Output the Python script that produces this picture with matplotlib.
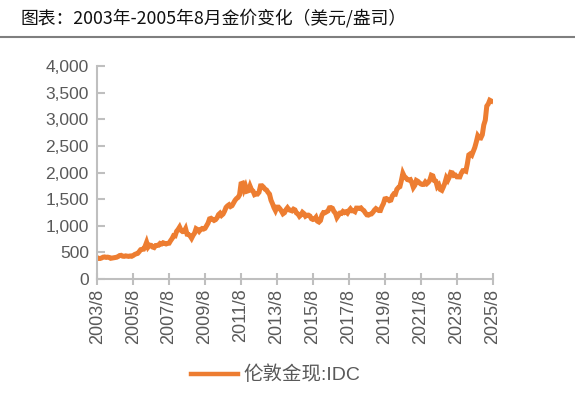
import numpy as np
import matplotlib
matplotlib.use("Agg")
import matplotlib.pyplot as plt
from matplotlib.lines import Line2D

plt.rcParams['font.family'] = ['Liberation Sans', 'Noto Sans CJK SC', 'DejaVu Sans']

# monthly gold price (USD/oz), 2003/8 .. 2025/7
gold = [
  # 2003 Aug-Dec
  400, 385, 385, 395, 410,
  # 2004
  414, 405, 410, 404, 388, 392, 398, 404, 408, 422, 440, 444,
  # 2005
  428, 425, 434, 430, 424, 432, 426, 440, 460, 472, 480, 512,
  # 2006
  550, 558, 560, 615, 690, 600, 636, 632, 600, 590, 628, 630,
  # 2007
  634, 668, 658, 680, 670, 658, 668, 672, 720, 760, 815, 810,
  # 2008
  895, 930, 975, 912, 890, 892, 945, 840, 835, 810, 765, 820,
  # 2009
  862, 945, 928, 895, 930, 948, 938, 952, 1000, 1050, 1130, 1140,
  # 2010
  1120, 1100, 1115, 1150, 1210, 1236, 1195, 1220, 1275, 1345, 1375, 1395,
  # 2011
  1362, 1378, 1428, 1478, 1512, 1532, 1580, 1790, 1800, 1680, 1745, 1650,
  # 2012
  1660, 1745, 1675, 1652, 1585, 1598, 1596, 1630, 1750, 1752, 1725, 1688,
  # 2013
  1672, 1628, 1595, 1480, 1415, 1340, 1285, 1350, 1350, 1318, 1275, 1225,
  # 2014
  1245, 1302, 1338, 1300, 1290, 1280, 1312, 1298, 1240, 1222, 1178, 1204,
  # 2015
  1252, 1228, 1180, 1198, 1200, 1182, 1132, 1118, 1126, 1160, 1086, 1070,
  # 2016
  1098, 1202, 1248, 1245, 1262, 1278, 1338, 1342, 1328, 1268, 1238, 1155,
  # 2017
  1195, 1236, 1232, 1268, 1248, 1262, 1238, 1285, 1318, 1282, 1284, 1266,
  # 2018
  1332, 1332, 1326, 1336, 1304, 1284, 1240, 1205, 1200, 1216, 1222, 1252,
  # 2019
  1294, 1322, 1302, 1286, 1286, 1360, 1415, 1505, 1512, 1496, 1472, 1482,
  # 2020
  1562, 1600, 1595, 1685, 1718, 1735, 1850, 1985, 1925, 1902, 1868, 1860,
  # 2021
  1868, 1810, 1720, 1762, 1852, 1836, 1808, 1786, 1776, 1778, 1822, 1792,
  # 2022
  1818, 1858, 1950, 1938, 1850, 1838, 1735, 1766, 1682, 1666, 1728, 1800,
  # 2023
  1900, 1856, 1915, 2002, 1995, 1945, 1952, 1920, 1918, 1918, 1988, 2035,
  # 2024
  2036, 2025, 2160, 2332, 2352, 2328, 2400, 2472, 2575, 2692, 2655, 2650,
  # 2025 Jan-Jul
  2710, 2895, 2985, 3250, 3290, 3360, 3345,
]
tick_labels = ["2003/8", "2005/8", "2007/8", "2009/8", "2011/8", "2013/8",
               "2015/8", "2017/8", "2019/8", "2021/8", "2023/8", "2025/8"]
y_ticks = [0, 500, 1000, 1500, 2000, 2500, 3000, 3500, 4000]
series_name = "伦敦金现:IDC"
title = "图表：2003年-2005年8月金价变化（美元/盎司）"

orange = "#ED7D31"
grey = "#595959"
spine_c = "#BFBFBF"

fig = plt.figure(figsize=(5.75, 3.94), dpi=100)
ax = fig.add_axes([0.169, 0.292, 0.688, 0.540])

months = np.arange(len(gold))
ax.plot(months, gold, color=orange, linewidth=3.6, solid_joinstyle='miter')

ax.set_xlim(0, 264)
ax.set_ylim(0, 4000)
ax.set_xticks(np.arange(0, 265, 24))
ax.set_xticklabels(tick_labels, rotation=90)
ax.set_yticks(y_ticks)
ax.set_yticklabels(["{:,}".format(v) for v in y_ticks])

for s in ["top", "right"]:
    ax.spines[s].set_visible(False)
for s in ["left", "bottom"]:
    ax.spines[s].set_color(spine_c)
    ax.spines[s].set_linewidth(1.5)
ax.tick_params(axis='y', direction='in', length=6, width=1.5, color=spine_c,
               labelsize=12.5, labelcolor=grey, pad=6)
ax.tick_params(axis='x', direction='inout', length=8, width=1.5, color=spine_c,
               labelsize=13, labelcolor=grey, pad=3)

handle = Line2D([0], [0], color=orange, linewidth=3.2)
fig.legend([handle], [series_name], loc='center', bbox_to_anchor=(0.48, 0.048),
           frameon=False, fontsize=14, labelcolor=grey, handlelength=2.4,
           handletextpad=0.3)

fig.text(0.035, 0.955, title, fontsize=12.8, color="#111111",
         family=['Noto Sans CJK SC'], va='center', ha='left')
fig.add_artist(Line2D([0, 1], [0.905, 0.905], transform=fig.transFigure,
                      color="#7F7F7F", linewidth=1.5))

fig.savefig("out.png", dpi=100)
